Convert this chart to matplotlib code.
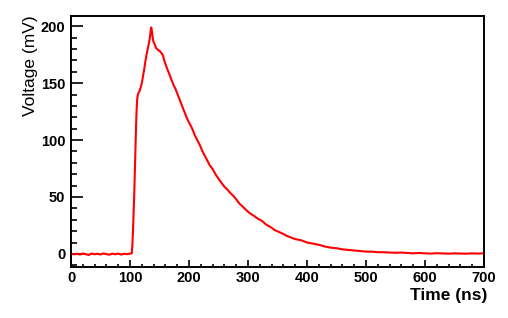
import matplotlib.pyplot as plt
from matplotlib.ticker import MultipleLocator

# waveform
time_ns = [0, 5, 10, 15, 20, 25, 30, 35, 40, 45, 50, 55, 60, 65, 70, 75, 80, 85, 90, 95, 100, 103,
           104, 105, 106, 107, 108, 109, 110, 111, 112, 113, 114, 116, 118, 120, 122, 124, 126, 128,
           130, 132, 134, 135, 136, 137, 138, 139, 140, 142, 144, 146, 148, 150, 152, 154, 156, 158,
           160, 162, 165, 168, 171, 174, 177, 180, 183, 186, 189, 192, 195, 198, 201, 204, 207, 210,
           214, 218, 222, 226, 230, 235, 240, 245, 250, 255, 260, 265, 270, 275, 280, 285, 290, 295,
           300, 305, 310, 315, 320, 325, 330, 335, 340, 345, 350, 355, 360, 365, 370, 375, 380, 385,
           390, 395, 400, 410, 420, 430, 440, 450, 460, 470, 480, 490, 500, 510, 520, 530, 540, 550,
           560, 570, 580, 590, 600, 610, 620, 630, 640, 650, 660, 670, 680, 690, 700]
voltage_mv = [0.3, -0.4, 0.2, -0.6, 0.4, -0.2, -0.9, 0.3, -0.3, 0.1, -0.5, 0.4, -0.2, -0.7, 0.2, -0.3, 0.3, -0.6, 0.1, -0.2, 0.2, 0.5,
              8, 20, 35, 50, 68, 88, 108, 124, 135, 139, 141, 143, 146, 150, 156, 162, 169, 175,
              180, 185, 191, 196, 199, 196, 192, 188, 186, 184, 181, 180, 179, 178.5, 177, 176, 174, 170,
              167, 164, 160, 156, 152, 148, 145, 141, 137, 133, 129, 125, 121, 117.5, 114.5, 111.5, 108, 104,
              100, 96, 91, 87, 83, 78, 74.5, 70, 66, 62.5, 59, 56.5, 53.5, 51, 48, 44.5, 42, 39.5,
              37, 35, 33.5, 31.5, 30, 28.5, 26, 24.5, 23, 21, 19.8, 18.5, 17.5, 16, 15, 14, 13, 12.5,
              12, 11, 10, 9, 8, 6.5, 5.5, 5, 4, 3.5, 3, 2.5, 2, 2, 1.5, 1.5, 1.2, 1,
              1.2, 0.8, 0.5, 0.8, 0.5, 0.3, 0.6, 0.4, 0.2, 0.5, 0.3, 0.2, 0.5, 0.3, 0.5]

plt.rcParams['font.family'] = ['Liberation Sans', 'DejaVu Sans']
plt.rcParams['font.weight'] = 'bold'

fig = plt.figure(figsize=(5.08, 3.18), dpi=100)
ax = fig.add_axes([0.1398, 0.1604, 0.813, 0.7893])

ax.plot(time_ns, voltage_mv, color='#ff0000', linewidth=1.5)

ax.set_xlim(0, 700)
ax.set_ylim(-11.5, 209)

ax.xaxis.set_major_locator(MultipleLocator(100))
ax.xaxis.set_minor_locator(MultipleLocator(20))
ax.yaxis.set_major_locator(MultipleLocator(50))
ax.yaxis.set_minor_locator(MultipleLocator(10))

ax.tick_params(axis='both', which='both', direction='in', width=1.2,
               labelsize=10.5, top=False, right=False)
ax.tick_params(axis='x', which='major', length=5, pad=3)
ax.tick_params(axis='x', which='minor', length=2.5)
ax.tick_params(axis='y', which='major', length=8.5, pad=4)
ax.tick_params(axis='y', which='minor', length=4.3)

for side in ['left', 'bottom', 'top', 'right']:
    ax.spines[side].set_linewidth(1.4)

fig.text(0.9587, 0.094, "Time (ns)", ha='right', va='top',
         fontsize=12.5, fontweight='bold')
fig.text(0.061, 0.953, "Voltage (mV)", ha='center', va='top',
         rotation=90, fontsize=12.5, fontweight='normal')

plt.savefig("out.png", dpi=100)
